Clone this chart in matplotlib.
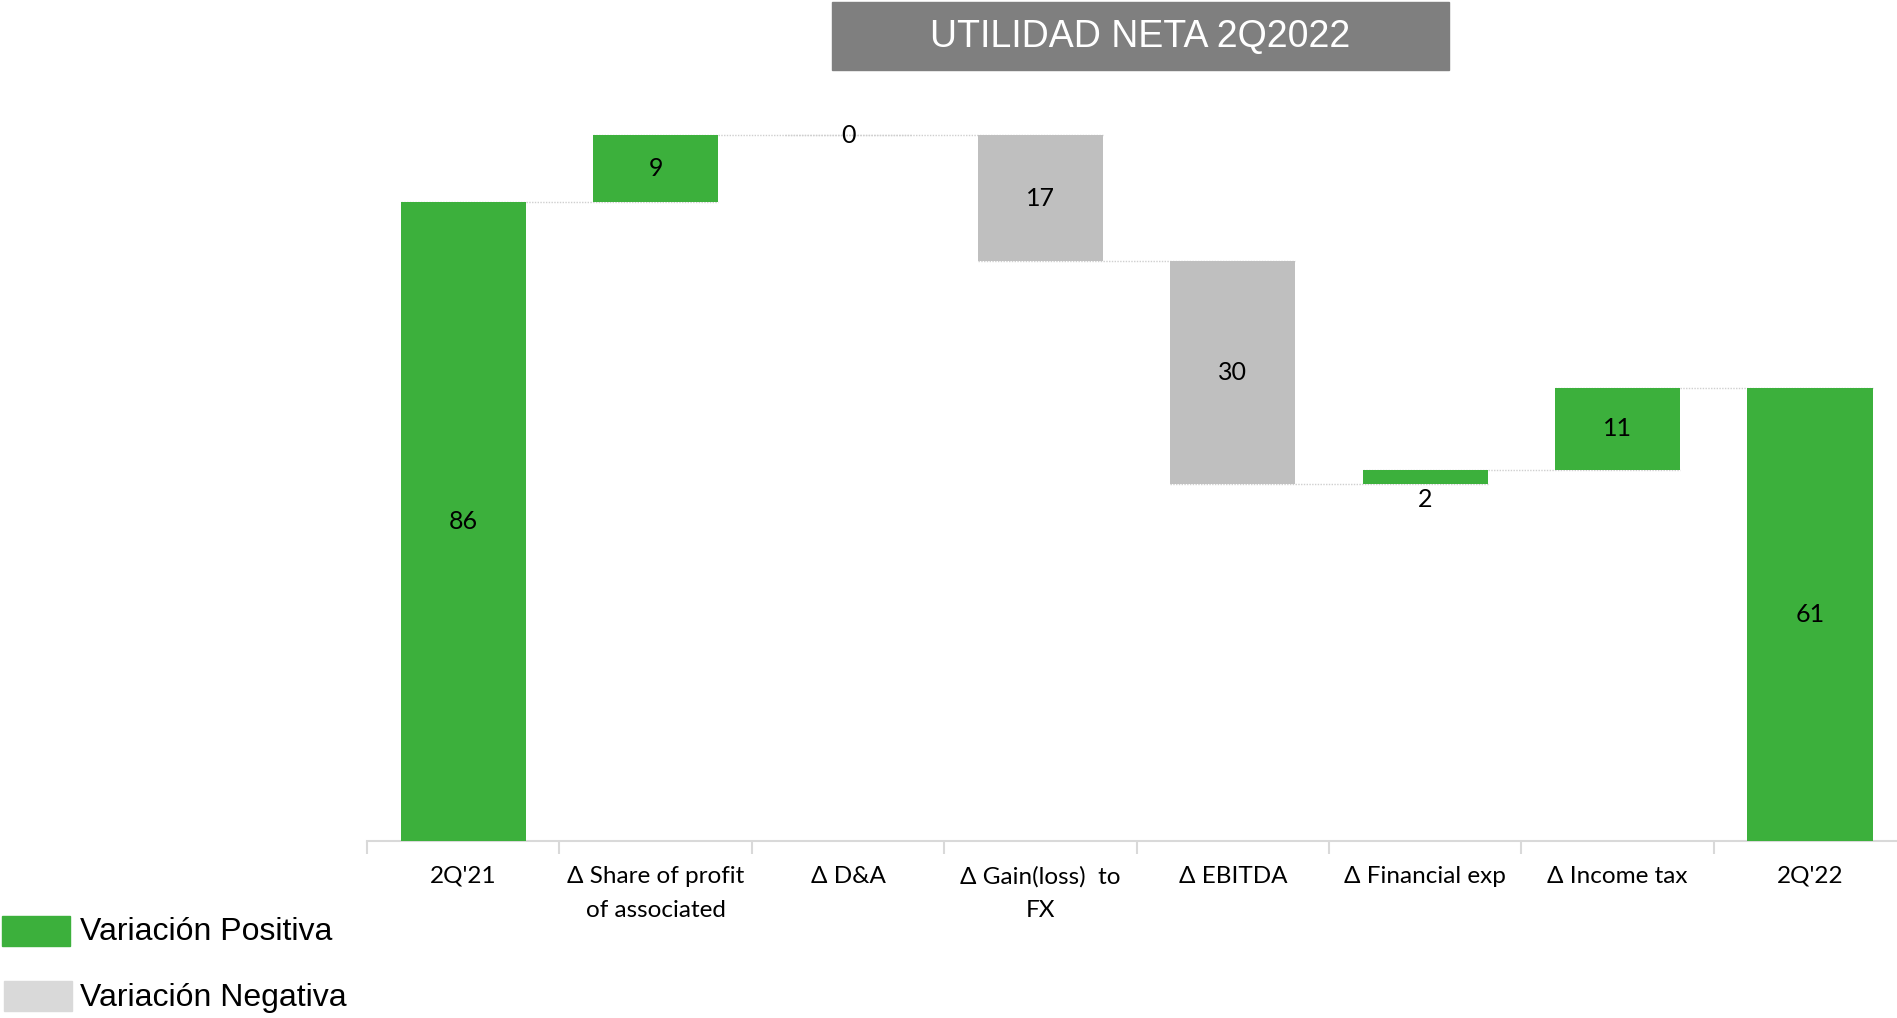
import numpy as np
import matplotlib.pyplot as plt
from matplotlib.patches import Rectangle

# waterfall data
categories = ["2Q'21", "Δ Share of profit\nof associated", "Δ D&A", "Δ Gain(loss)  to\nFX",
              "Δ EBITDA", "Δ Financial exp", "Δ Income tax", "2Q'22"]
changes = [86, 9, 0, -17, -30, 2, 11, 61]
is_total = [True, False, False, False, False, False, False, True]

green = '#3cb03c'
grey_bar = '#bfbfbf'
grey_leg = '#d9d9d9'
lbl_font = ['Lato', 'DejaVu Sans']

W, H = 1897, 1018
fig = plt.figure(figsize=(W / 100, H / 100), dpi=100)
ax = fig.add_axes([367 / W, (H - 841) / H, 8 * 192.4 / W, 743 / H])

x = np.arange(len(categories))
bottoms, heights, colors, levels = [], [], [], []
running = 0
for v, tot in zip(changes, is_total):
    if tot:
        bottoms.append(0)
        heights.append(v)
        running = v
        colors.append(green)
    else:
        start = running
        running = running + v
        bottoms.append(min(start, running))
        heights.append(abs(v))
        colors.append(green if v >= 0 else grey_bar)
    levels.append(running)

bw = 0.65
ax.bar(x, heights, bottom=bottoms, width=bw, color=colors, zorder=3)

# dotted connectors between consecutive bars
for i in range(len(x) - 1):
    ax.plot([x[i] - bw / 2, x[i + 1] + bw / 2], [levels[i], levels[i]],
            color='#cfcfcf', lw=1, ls=(0, (1, 1)), zorder=2)

# value labels
for i, v in enumerate(changes):
    if heights[i] == 0:
        y, va = levels[i], 'center'
    elif heights[i] < 4:
        y, va = bottoms[i] - 0.5, 'top'
    else:
        y, va = bottoms[i] + heights[i] / 2, 'center'
    ax.text(x[i], y, str(abs(v)), ha='center', va=va, fontsize=18,
            family=lbl_font, color='black', zorder=4)

ax.set_xlim(-0.5, len(x) - 0.5)
ax.set_ylim(0, 100)
ax.set_yticks([])
for s in ['top', 'right', 'left']:
    ax.spines[s].set_visible(False)
ax.spines['bottom'].set_color('#d9d9d9')
ax.spines['bottom'].set_linewidth(1.5)

ax.set_xticks(x)
ax.set_xticklabels(categories, family=lbl_font, fontsize=17.5, linespacing=1.75)
ax.tick_params(axis='x', length=0, pad=18)
ax.set_xticks(np.arange(-0.5, len(x), 1), minor=True)
ax.tick_params(axis='x', which='minor', length=9, width=1.5, color='#d9d9d9')

# title box
fig.patches.append(Rectangle((832 / W, (H - 70) / H), 617 / W, 68 / H,
                             transform=fig.transFigure, color='#7f7f7f'))
fig.text(1140 / W, 1 - 37 / H, 'UTILIDAD NETA 2Q2022', ha='center', va='center',
         color='white', fontsize=27, family='Liberation Sans')

# legend
fig.patches.append(Rectangle((2 / W, (H - 946) / H), 68 / W, 30 / H,
                             transform=fig.transFigure, color=green))
fig.patches.append(Rectangle((4 / W, (H - 1011) / H), 68 / W, 30 / H,
                             transform=fig.transFigure, color=grey_leg))
fig.text(80 / W, 1 - 932 / H, 'Variación Positiva', ha='left', va='center',
         fontsize=23, family='Liberation Sans')
fig.text(80 / W, 1 - 998 / H, 'Variación Negativa', ha='left', va='center',
         fontsize=23, family='Liberation Sans')

fig.savefig('out.png', dpi=100)
